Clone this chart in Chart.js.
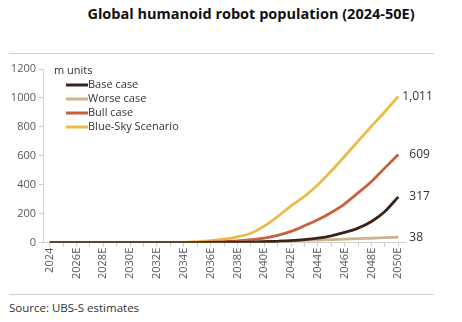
<!DOCTYPE html>
<html>
<head>
<meta charset="utf-8">
<script src="https://cdn.jsdelivr.net/npm/chart.js@4"></script>
<style>
  body { margin: 0; background: #fff; width: 462px; height: 322px; overflow: hidden; position: relative; font-family: "Open Sans", sans-serif; }
  #title { position: absolute; top: 4px; left: 0; width: 502px; text-align: center; font-size: 14.5px; font-weight: bold; color: #111; }
  .rule { position: absolute; left: 9px; width: 425px; height: 1px; background: #cfcfcf; }
  #source { position: absolute; left: 9px; top: 300px; font-size: 11.5px; color: #333; }
  #box { position: absolute; left: 0; top: 58px; width: 462px; height: 222px; }
</style>
</head>
<body>
<div id="title">Global humanoid robot population (2024-50E)</div>
<div class="rule" style="top:53px"></div>
<div id="box"><canvas id="myChart"></canvas></div>
<div class="rule" style="top:294px"></div>
<div id="source">Source: UBS-S estimates</div>
<script>
// años 2024 .. 2050E
const years = ['2024','2025E','2026E','2027E','2028E','2029E','2030E','2031E','2032E','2033E','2034E','2035E','2036E','2037E','2038E','2039E','2040E','2041E','2042E','2043E','2044E','2045E','2046E','2047E','2048E','2049E','2050E'];

const baseCase  = [0,0,0,0,0,0,0,0,0.1,0.2,0.5,1,2,3,4,5,7,10,14,21,32,48,71,101,147,216,317];
const worseCase = [0,0,0,0,0,0,0,0,0,0.1,0.3,0.6,1,2,4,6,8,10,13,16,19,22,25,28,31,35,38];
const bullCase  = [0,0,0,0,0,0,0,0,0.1,0.3,1,2,4,7,12,21,32,51,78,117,158,209,269,344,423,517,609];
const blueSky   = [0,0,0,0,0,0,0,0.1,0.3,1,3,7,14,25,41,65,115,181,255,320,400,495,597,702,805,905,1011];

const endLabels = ['317', '38', '609', '1,011'];
const yTicks = [0, 200, 400, 600, 800, 1000, 1200];

const grey = '#595959';
const fontFam = '"Open Sans", sans-serif';

// leyenda propia + etiquetas al final de cada línea
const labelsPlugin = {
  id: 'labels',
  afterDatasetsDraw(chart) {
    const ctx = chart.ctx;
    const x = chart.scales.x;
    const y = chart.scales.y;
    ctx.save();
    ctx.font = '12px ' + fontFam;
    ctx.fillStyle = '#333';
    ctx.textBaseline = 'middle';
    chart.data.datasets.forEach((ds, i) => {
      const last = ds.data.length - 1;
      const px = x.getPixelForValue(last);
      const py = y.getPixelForValue(ds.data[last]);
      const txt = endLabels[i];
      const off = txt.length > 3 ? 4 : 11;
      ctx.fillText(txt, px + off, py);
    });

    // leyenda
    const top = y.getPixelForValue(1200);
    ctx.font = '11px ' + fontFam;
    ctx.fillStyle = '#333';
    ctx.fillText('m units', 54, top + 2);
    chart.data.datasets.forEach((ds, i) => {
      const ly = top + 16 + i * 14;
      ctx.strokeStyle = ds.borderColor;
      ctx.lineWidth = 3;
      ctx.beginPath();
      ctx.moveTo(66, ly);
      ctx.lineTo(88, ly);
      ctx.stroke();
      ctx.fillStyle = '#333';
      ctx.fillText(ds.label, 88, ly);
    });
    ctx.restore();
  }
};

new Chart('myChart', {
  type: 'line',
  data: {
    labels: years,
    datasets: [
      { label: 'Base case', data: baseCase, borderColor: '#3a2418' },
      { label: 'Worse case', data: worseCase, borderColor: '#cdb48f' },
      { label: 'Bull case', data: bullCase, borderColor: '#c8603c' },
      { label: 'Blue-Sky Scenario', data: blueSky, borderColor: '#e9bd45' }
    ]
  },
  options: {
    responsive: true,
    maintainAspectRatio: false,
    animation: false,
    layout: { padding: { left: 0, right: 57, top: 11, bottom: 0 } },
    elements: {
      line: { borderWidth: 2.8, tension: 0.3, fill: false },
      point: { radius: 0 }
    },
    plugins: {
      tooltip: { enabled: false },
      legend: { display: false }
    },
    scales: {
      x: {
        offset: true,
        grid: { drawOnChartArea: false, drawTicks: true, tickLength: 4, color: '#cfcfcf' },
        border: { color: '#cfcfcf' },
        ticks: {
          autoSkip: false,
          minRotation: 90,
          maxRotation: 90,
          color: grey,
          padding: 1,
          font: { family: fontFam, size: 11 },
          callback: function(v, i) { return i % 2 === 0 ? years[i] : ''; }
        }
      },
      y: {
        min: 0,
        max: 1200,
        afterBuildTicks: function(scale) { scale.ticks = yTicks.map(v => ({ value: v })); },
        afterFit: function(scale) { scale.width = 43; },
        grid: { drawOnChartArea: false, drawTicks: true, tickLength: 4, color: '#cfcfcf' },
        border: { color: '#cfcfcf' },
        ticks: {
          color: grey,
          padding: 3,
          font: { family: fontFam, size: 11 },
          callback: function(v) { return String(v); }
        }
      }
    }
  },
  plugins: [labelsPlugin]
});
</script>
</body>
</html>
